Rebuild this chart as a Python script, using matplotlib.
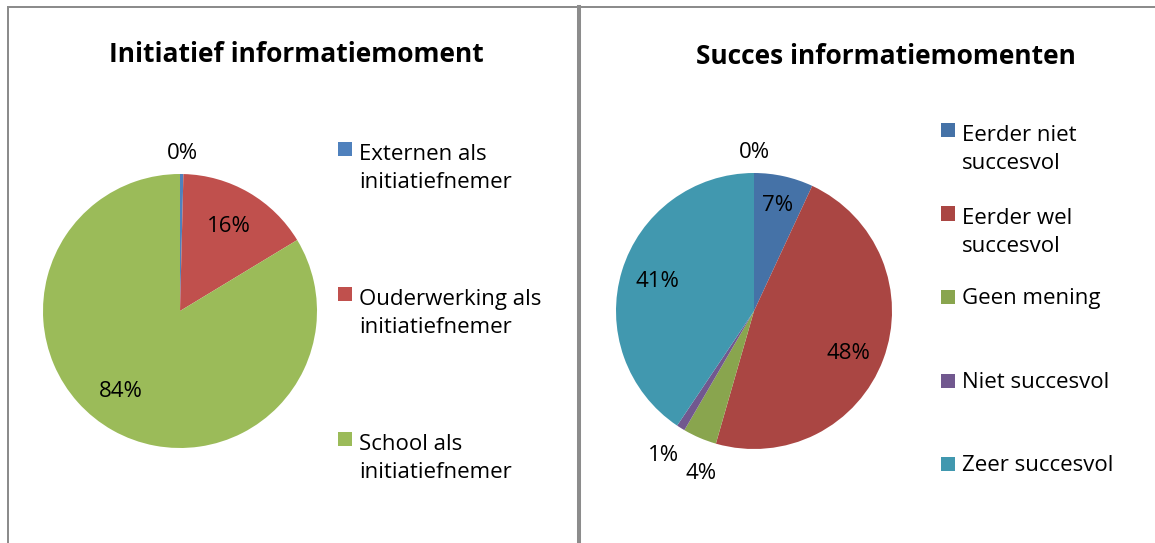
import numpy as np
import matplotlib
matplotlib.use("Agg")
import matplotlib.pyplot as plt
from matplotlib.lines import Line2D
from matplotlib.patches import Rectangle

plt.rcParams['font.family'] = ['Open Sans', 'DejaVu Sans']

# left chart data
left_title = 'Initiatief informatiemoment'
left_labels = ['Externen als\ninitiatiefnemer', 'Ouderwerking als\ninitiatiefnemer',
               'School als\ninitiatiefnemer']
left_values = [0.4, 16, 84]
left_colors = ['#4F81BD', '#C0504D', '#9BBB59']

# right chart data (last slice is the empty 0% entry, not in the legend)
right_title = 'Succes informatiemomenten'
right_labels = ['Eerder niet\nsuccesvol', 'Eerder wel\nsuccesvol', 'Geen mening',
                'Niet succesvol', 'Zeer succesvol']
right_values = [7, 48, 4, 1, 41, 0]
right_colors = ['#4572A7', '#AA4643', '#89A54E', '#71588F', '#4198AF', '#DB843D']

# label placement: radius factor and angular nudge (deg)
left_label_dist = [1.15, 0.71, 0.73]
left_label_nudge = [0, 0, -7]
right_label_dist = [0.78, 0.75, 1.24, 1.24, 0.73, 1.15]
right_label_nudge = [0, -4, 5, 0, 0, 0]

W, H = 1155, 543
FS = 16
TITLE_FS = 19
fig = plt.figure(figsize=(W / 100, H / 100), dpi=100)


def px_axes(cx, cy, r):
    return fig.add_axes([(cx - r) / W, (H - cy - r) / H, 2 * r / W, 2 * r / H])


def draw_pie(ax, values, colors, dists, nudges):
    wedges, _ = ax.pie(values, colors=colors, startangle=90, counterclock=False,
                       wedgeprops=dict(linewidth=0))
    total = float(sum(values))
    for w, v, d, n in zip(wedges, values, dists, nudges):
        ang = np.deg2rad((w.theta1 + w.theta2) / 2 + n)
        ax.text(d * np.cos(ang), d * np.sin(ang), '{:.0f}%'.format(100 * v / total),
                ha='center', va='center', fontsize=FS)
    ax.set_xlim(-1, 1)
    ax.set_ylim(-1, 1)
    ax.set_aspect('equal')
    ax.axis('off')
    return wedges


def draw_legend(labels, colors, x0, y0, step):
    # square sits on the baseline of the first line, text to the right
    sq = 14
    line_px = 32
    for i, (lab, col) in enumerate(zip(labels, colors)):
        yb = y0 + i * step
        fig.add_artist(Rectangle((x0 / W, (H - yb) / H), sq / W, sq / H,
                                 facecolor=col, edgecolor='none'))
        # va='baseline' anchors the last line of a multi-line text
        y_last = yb + lab.count('\n') * line_px
        fig.text((x0 + sq + 7) / W, (H - y_last) / H, lab, ha='left', va='baseline',
                 fontsize=FS, linespacing=line_px / (FS * 100 / 72.0))


# left pie
ax1 = px_axes(180, 311, 137)
draw_pie(ax1, left_values, left_colors, left_label_dist, left_label_nudge)
fig.text(296 / W, 1 - 55 / H, left_title, ha='center', va='center',
         fontsize=TITLE_FS, fontweight='bold')
draw_legend(left_labels, left_colors, 338, 156, 145)

# right pie
ax2 = px_axes(754, 311, 138)
draw_pie(ax2, right_values, right_colors, right_label_dist, right_label_nudge)
fig.text(886 / W, 1 - 57 / H, right_title, ha='center', va='center',
         fontsize=TITLE_FS, fontweight='bold')
draw_legend(right_labels, right_colors, 941, 137, 83.5)

# panel borders
grey = '#8C8C8C'
fig.add_artist(Line2D([7.5 / W, 1], [1 - 7 / H, 1 - 7 / H], color=grey, lw=1.44))
fig.add_artist(Line2D([7.5 / W, 7.5 / W], [0, 1 - 7 / H], color=grey, lw=1.44))
fig.add_artist(Line2D([579 / W, 579 / W], [0, 1 - 7 / H], color=grey, lw=2.9))

fig.savefig('out.png', dpi=100)
